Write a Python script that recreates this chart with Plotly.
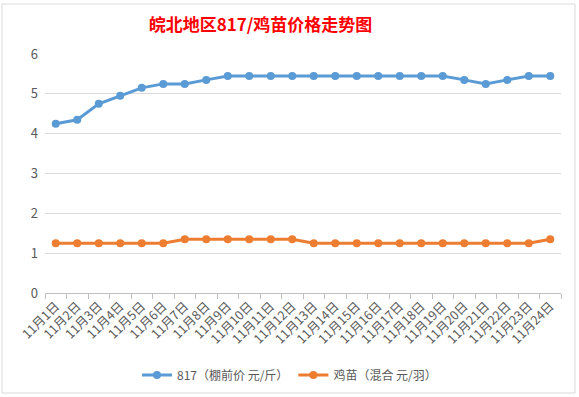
import plotly.graph_objects as go

categories = [f"11月{d}日" for d in range(1, 25)]
price_817 = [4.25, 4.35, 4.75, 4.95, 5.15, 5.25, 5.25, 5.35, 5.45, 5.45, 5.45, 5.45,
             5.45, 5.45, 5.45, 5.45, 5.45, 5.45, 5.45, 5.35, 5.25, 5.35, 5.45, 5.45]
price_chick = [1.25, 1.25, 1.25, 1.25, 1.25, 1.25, 1.35, 1.35, 1.35, 1.35, 1.35, 1.35,
               1.25, 1.25, 1.25, 1.25, 1.25, 1.25, 1.25, 1.25, 1.25, 1.25, 1.25, 1.35]
name_817 = "817（棚前价 元/斤）"
name_chick = "鸡苗（混合 元/羽）"
title_text = "<b>皖北地区817/鸡苗价格走势图</b>"

FONT = "Noto Sans CJK SC"
fig = go.Figure()
fig.add_trace(go.Scatter(x=categories, y=price_817, name=name_817, mode="lines+markers",
                         line=dict(color="#5B9BD5", width=3), marker=dict(size=8, color="#5B9BD5")))
fig.add_trace(go.Scatter(x=categories, y=price_chick, name=name_chick, mode="lines+markers",
                         line=dict(color="#ED7D31", width=3), marker=dict(size=8, color="#ED7D31")))

fig.update_layout(
    width=579, height=397,
    margin=dict(l=45, r=18, t=54, b=104, autoexpand=False),
    paper_bgcolor="white", plot_bgcolor="white",
    font=dict(family=FONT, size=12, color="#595959"),
    title=dict(text=title_text, x=0.45, xanchor="center", y=1 - 25 / 397, yanchor="middle",
               xref="container", yref="container", font=dict(family=FONT, size=17, color="#FF0000")),
    showlegend=True,
    legend=dict(orientation="h", xref="container", yref="container", x=0.5, xanchor="center",
                y=1 - 375 / 397, yanchor="middle", font=dict(size=12, color="#595959"),
                itemwidth=30, tracegroupgap=0),
    xaxis=dict(type="category", tickangle=-45, showgrid=False, showline=True, linecolor="#BFBFBF",
               ticks="outside", tickson="boundaries", ticklen=5, tickcolor="#BFBFBF",
               tickfont=dict(size=12.5, color="#595959"), range=[-0.5, 23.5], automargin=False),
    yaxis=dict(range=[0, 6], dtick=1, showgrid=True, gridcolor="#D9D9D9", zeroline=False,
               showline=False, ticks="", tickfont=dict(size=13, color="#595959"),
               ticklabelstandoff=6, automargin=False),
    shapes=[dict(type="rect", xref="paper", yref="paper", x0=-43 / 516, x1=1 + 14 / 516,
                 y0=-100 / 239, y1=1 + 50 / 239, line=dict(color="#D9D9D9", width=1))],
)
fig.write_html("out.html", config={"displayModeBar": False},
               post_script="document.body.style.margin='0';document.body.style.overflow='hidden';")
